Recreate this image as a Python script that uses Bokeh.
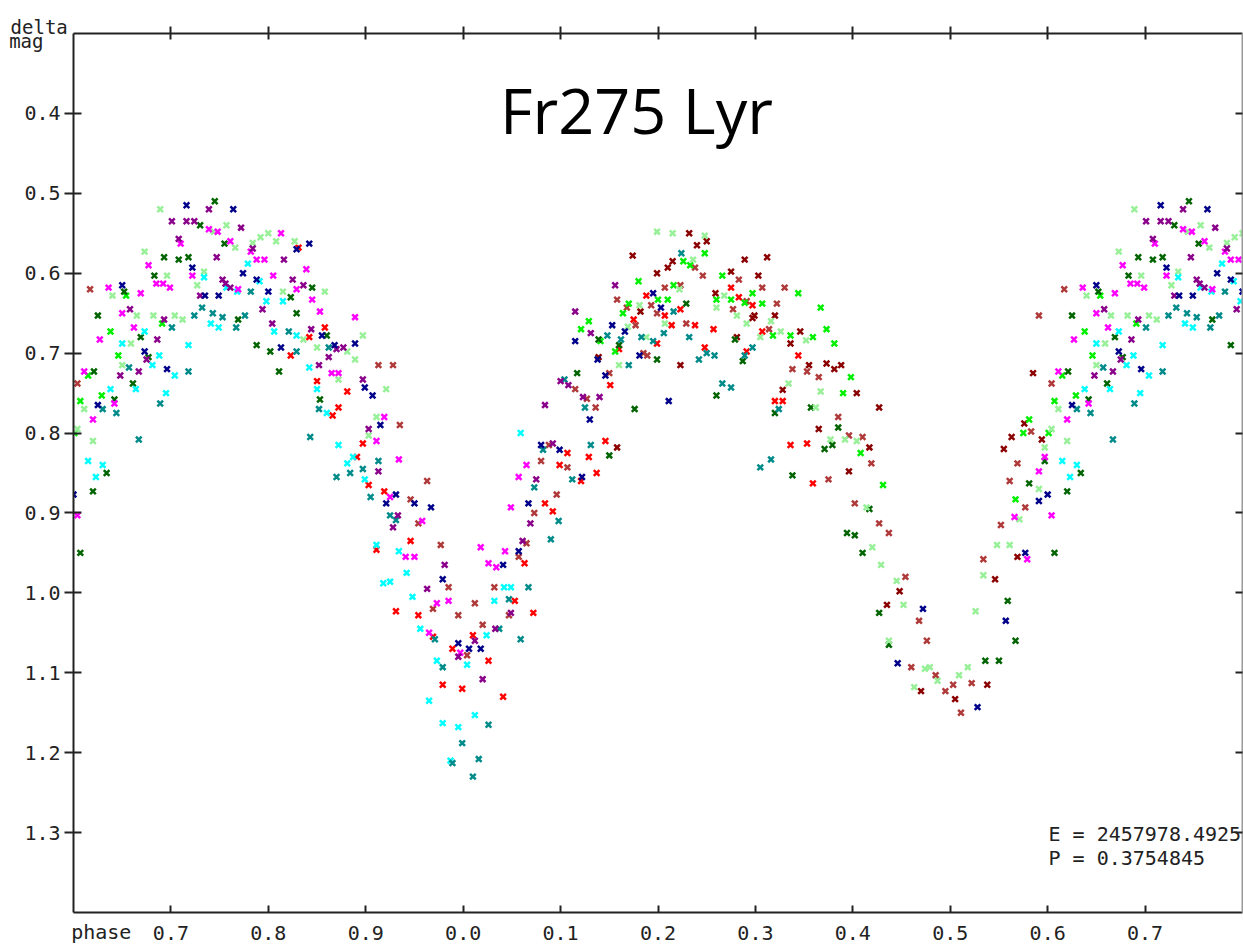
from bokeh.plotting import figure
from bokeh.models import (Range1d, LinearAxis, FixedTicker, Label, CustomLabelingPolicy,
                          PrintfTickFormatter, CustomJSTickFormatter)
from bokeh.embed import file_html
from bokeh.resources import INLINE

# ---- data: (phase, delta mag) per observing series ----
red = [(0.831,0.568),(0.842,0.680),(0.858,0.668),(0.823,0.703),(0.850,0.735),(0.881,0.748),
       (0.872,0.768),(0.866,0.778),(0.897,0.813),(0.891,0.830),(0.903,0.865),(0.919,0.873),
       (0.911,0.946),(0.931,1.023),(0.107,0.825),(0.129,0.830),(0.146,0.810),(0.099,0.840),
       (0.121,0.860),(0.137,0.850),(0.151,0.740),(0.160,0.695),(0.175,0.658),(0.188,0.628),
       (0.199,0.688),(0.207,0.653),(0.214,0.665),(0.223,0.645),(0.238,0.665),(0.248,0.693),
       (0.946,0.935),(0.954,1.028),(0.063,0.963),(0.084,0.888),(0.092,0.898),(0.053,1.010),
       (0.072,1.025),(0.010,1.053),(0.969,1.055),(0.989,1.070),(0.026,1.085),(0.979,1.115),
       (0.999,1.120),(0.041,1.130),(0.275,0.618),(0.283,0.630),(0.297,0.640),(0.257,0.670),
       (0.307,0.673),(0.291,0.698),(0.344,0.703),(0.320,0.760),(0.328,0.760),(0.336,0.815),
       (0.353,0.813),(0.359,0.863)]
brown = [(0.617,0.620),(0.913,0.715),(0.928,0.715),(0.604,0.738),(0.935,0.790),(0.963,0.860),
         (0.088,0.815),(0.080,0.835),(0.107,0.843),(0.096,0.877),(0.136,0.768),(0.127,0.757),
         (0.115,0.745),(0.150,0.725),(0.158,0.633),(0.168,0.643),(0.177,0.665),(0.193,0.640),
         (0.199,0.650),(0.185,0.700),(0.189,0.703),(0.238,0.593),(0.246,0.603),(0.207,0.618),
         (0.223,0.615),(0.229,0.663),(0.946,0.883),(0.954,0.913),(0.977,0.940),(0.985,0.993),
         (0.969,1.020),(0.995,1.028),(0.012,1.013),(0.057,0.955),(0.065,0.938),(0.073,0.900),
         (0.032,0.993),(0.047,1.028),(0.020,1.040),(0.004,1.078),(0.283,0.608),(0.307,0.618),
         (0.330,0.618),(0.291,0.635),(0.322,0.638),(0.277,0.645),(0.314,0.670),(0.338,0.720),
         (0.353,0.723),(0.365,0.730),(0.385,0.780),(0.396,0.803),(0.410,0.805),(0.419,0.838),
         (0.375,0.858),(0.591,0.653),(0.583,0.798),(0.569,0.838),(0.561,0.860),(0.402,0.888),
         (0.427,0.913),(0.437,0.925),(0.454,0.980),(0.468,1.035),(0.476,1.060),(0.460,1.093),
         (0.485,1.103),(0.495,1.123),(0.503,1.115),(0.511,1.150),(0.522,1.113),(0.534,0.958),
         (0.552,0.915),(0.577,0.893)]
darkred = [(0.158,0.818),(0.139,0.705),(0.174,0.578),(0.182,0.648),(0.223,0.715),(0.199,0.600),
           (0.210,0.593),(0.215,0.585),(0.232,0.550),(0.240,0.565),(0.250,0.560),(0.289,0.583),
           (0.312,0.580),(0.275,0.598),(0.303,0.603),(0.259,0.625),(0.299,0.653),(0.297,0.656),
           (0.320,0.653),(0.281,0.680),(0.336,0.688),(0.346,0.673),(0.355,0.715),(0.373,0.713),
           (0.381,0.720),(0.388,0.715),(0.328,0.746),(0.404,0.750),(0.427,0.768),(0.365,0.795),
           (0.417,0.818),(0.396,0.848),(0.585,0.725),(0.576,0.788),(0.563,0.805),(0.594,0.808),
           (0.555,0.820),(0.448,0.998),(0.435,1.015),(0.470,1.123),(0.505,1.133),(0.538,1.115),
           (0.546,0.983),(0.569,0.955)]
lime = [(0.654,0.628),(0.691,0.663),(0.638,0.673),(0.646,0.703),(0.615,0.728),(0.607,0.760),
        (0.629,0.753),(0.601,0.800),(0.129,0.660),(0.121,0.670),(0.141,0.685),(0.170,0.638),
        (0.164,0.650),(0.156,0.698),(0.180,0.610),(0.226,0.585),(0.233,0.590),(0.248,0.575),
        (0.216,0.615),(0.200,0.633),(0.210,0.633),(0.266,0.603),(0.297,0.625),(0.344,0.625),
        (0.260,0.633),(0.275,0.633),(0.289,0.637),(0.307,0.638),(0.367,0.643),(0.318,0.678),
        (0.336,0.678),(0.373,0.670),(0.359,0.680),(0.381,0.688),(0.398,0.730),(0.390,0.750),
        (0.408,0.825),(0.431,0.865),(0.581,0.783),(0.575,0.800),(0.567,0.883)]
darkgreen = [(0.745,0.510),(0.730,0.540),(0.755,0.563),(0.693,0.580),(0.708,0.583),(0.718,0.580),
             (0.683,0.603),(0.652,0.623),(0.823,0.630),(0.845,0.618),(0.625,0.653),(0.769,0.658),
             (0.829,0.650),(0.669,0.680),(0.860,0.678),(0.788,0.690),(0.802,0.698),(0.677,0.705),
             (0.811,0.723),(0.621,0.723),(0.661,0.738),(0.642,0.758),(0.853,0.758),(0.634,0.850),
             (0.620,0.873),(0.607,0.950),(0.150,0.828),(0.117,0.725),(0.176,0.770),(0.139,0.683),
             (0.160,0.690),(0.199,0.708),(0.229,0.638),(0.279,0.683),(0.287,0.710),(0.260,0.753),
             (0.320,0.775),(0.357,0.768),(0.385,0.793),(0.379,0.815),(0.371,0.820),(0.338,0.853),
             (0.597,0.835),(0.581,0.863),(0.417,0.895),(0.394,0.925),(0.402,0.928),(0.410,0.950),
             (0.427,1.025),(0.437,1.065),(0.536,1.085),(0.550,1.085),(0.567,1.060),(0.559,1.010)]
lightgreen = [(0.689,0.520),(0.744,0.548),(0.757,0.540),(0.800,0.550),(0.792,0.555),(0.784,0.562),
              (0.766,0.568),(0.808,0.560),(0.827,0.560),(0.673,0.573),(0.734,0.598),(0.696,0.603),
              (0.727,0.615),(0.858,0.623),(0.815,0.623),(0.640,0.628),(0.665,0.653),(0.682,0.653),
              (0.704,0.653),(0.712,0.658),(0.659,0.688),(0.836,0.683),(0.897,0.678),(0.850,0.693),
              (0.881,0.698),(0.889,0.708),(0.650,0.715),(0.872,0.733),(0.921,0.745),(0.611,0.770),
              (0.911,0.780),(0.903,0.803),(0.620,0.810),(0.604,0.795),(0.169,0.667),(0.160,0.715),
              (0.181,0.640),(0.207,0.663),(0.188,0.680),(0.236,0.583),(0.199,0.548),(0.215,0.550),
              (0.248,0.553),(0.222,0.620),(0.268,0.628),(0.260,0.643),(0.281,0.653),(0.291,0.663),
              (0.316,0.660),(0.326,0.673),(0.305,0.680),(0.352,0.684),(0.334,0.738),(0.367,0.748),
              (0.362,0.768),(0.377,0.808),(0.392,0.808),(0.404,0.810),(0.597,0.818),(0.591,0.870),
              (0.414,0.893),(0.420,0.943),(0.429,0.965),(0.445,0.985),(0.452,1.015),(0.437,1.060),
              (0.474,1.095),(0.479,1.093),(0.487,1.110),(0.463,1.118),(0.509,1.103),(0.518,1.093),
              (0.526,1.023),(0.534,0.978),(0.548,0.940),(0.561,0.940),(0.571,0.908)]
cyan = [(0.779,0.588),(0.734,0.605),(0.791,0.610),(0.757,0.618),(0.768,0.623),(0.798,0.635),
        (0.815,0.635),(0.741,0.663),(0.749,0.668),(0.673,0.673),(0.650,0.688),(0.718,0.690),
        (0.806,0.673),(0.829,0.678),(0.688,0.703),(0.681,0.715),(0.704,0.728),(0.842,0.718),
        (0.638,0.745),(0.664,0.745),(0.695,0.750),(0.850,0.745),(0.860,0.775),(0.872,0.815),
        (0.887,0.830),(0.881,0.838),(0.899,0.858),(0.615,0.835),(0.630,0.840),(0.623,0.855),
        (0.911,0.940),(0.934,0.948),(0.918,0.988),(0.925,0.986),(0.059,0.800),(0.942,0.975),
        (0.948,1.005),(0.042,0.993),(0.049,0.993),(0.032,1.010),(0.024,1.053),(0.956,1.045),
        (0.973,1.085),(0.004,1.090),(0.965,1.135),(0.012,1.153),(0.979,1.163),(0.995,1.168),
        (0.987,1.210)]
teal = [(0.782,0.623),(0.701,0.668),(0.724,0.653),(0.732,0.643),(0.743,0.650),(0.753,0.655),
        (0.776,0.653),(0.767,0.668),(0.821,0.673),(0.829,0.698),(0.862,0.693),(0.657,0.718),
        (0.718,0.723),(0.630,0.770),(0.644,0.775),(0.689,0.763),(0.852,0.770),(0.843,0.805),
        (0.667,0.808),(0.913,0.835),(0.870,0.855),(0.884,0.850),(0.897,0.845),(0.905,0.880),
        (0.925,0.903),(0.931,0.909),(0.082,0.821),(0.131,0.815),(0.073,0.868),(0.112,0.858),
        (0.125,0.768),(0.104,0.733),(0.148,0.678),(0.162,0.683),(0.170,0.715),(0.206,0.675),
        (0.183,0.680),(0.195,0.685),(0.224,0.575),(0.216,0.648),(0.232,0.680),(0.250,0.700),
        (0.242,0.708),(0.098,0.910),(0.090,0.933),(0.067,0.993),(0.047,1.008),(0.037,1.045),
        (0.059,1.058),(0.971,1.058),(0.979,1.093),(0.026,1.165),(0.999,1.188),(0.989,1.213),
        (0.016,1.208),(0.010,1.230),(0.297,0.693),(0.258,0.703),(0.289,0.703),(0.266,0.738),
        (0.275,0.743),(0.324,0.770),(0.316,0.833),(0.305,0.843)]
magenta = [(0.739,0.545),(0.748,0.548),(0.813,0.550),(0.710,0.563),(0.761,0.560),(0.782,0.573),
           (0.677,0.590),(0.788,0.583),(0.796,0.583),(0.722,0.603),(0.805,0.603),(0.839,0.595),
           (0.685,0.613),(0.692,0.613),(0.699,0.618),(0.769,0.620),(0.829,0.620),(0.636,0.618),
           (0.669,0.625),(0.845,0.633),(0.650,0.650),(0.853,0.648),(0.889,0.655),(0.627,0.683),
           (0.662,0.668),(0.865,0.725),(0.872,0.725),(0.611,0.723),(0.642,0.763),(0.620,0.783),
           (0.919,0.780),(0.911,0.810),(0.934,0.833),(0.925,0.880),(0.604,0.903),(0.065,0.840),
           (0.057,0.855),(0.958,0.910),(0.941,0.955),(0.950,0.955),(0.973,1.013),(0.985,1.010),
           (0.018,0.943),(0.043,0.948),(0.026,0.963),(0.034,0.968),(0.049,0.893),(0.965,1.050),
           (0.997,1.075),(0.597,0.830),(0.591,0.848),(0.579,0.958),(0.566,0.905)]
purple = [(0.739,0.520),(0.701,0.535),(0.716,0.535),(0.724,0.535),(0.772,0.543),(0.708,0.557),
          (0.784,0.569),(0.747,0.580),(0.816,0.583),(0.753,0.608),(0.825,0.608),(0.756,0.613),
          (0.761,0.618),(0.836,0.615),(0.730,0.628),(0.658,0.645),(0.693,0.658),(0.794,0.645),
          (0.686,0.683),(0.804,0.663),(0.844,0.670),(0.870,0.695),(0.877,0.693),(0.862,0.705),
          (0.675,0.708),(0.667,0.723),(0.648,0.728),(0.852,0.715),(0.897,0.733),(0.903,0.795),
          (0.913,0.848),(0.933,0.903),(0.928,0.918),(0.092,0.813),(0.075,0.858),(0.084,0.765),
          (0.123,0.755),(0.140,0.755),(0.100,0.735),(0.108,0.740),(0.115,0.648),(0.131,0.675),
          (0.156,0.615),(0.981,0.965),(0.963,0.995),(0.061,0.935),(0.069,0.913),(0.049,1.025),
          (0.033,1.045),(0.012,1.060),(0.995,1.080),(0.020,1.108)]
navy = [(0.716,0.515),(0.764,0.520),(0.829,0.570),(0.842,0.563),(0.722,0.593),(0.774,0.600),
        (0.788,0.608),(0.800,0.623),(0.735,0.628),(0.749,0.628),(0.650,0.615),(0.855,0.678),
        (0.868,0.690),(0.889,0.688),(0.813,0.693),(0.673,0.698),(0.696,0.720),(0.899,0.743),
        (0.907,0.753),(0.625,0.765),(0.915,0.790),(0.931,0.877),(0.921,0.888),(0.080,0.815),
        (0.099,0.821),(0.122,0.855),(0.130,0.783),(0.146,0.728),(0.115,0.685),(0.138,0.708),
        (0.153,0.665),(0.166,0.673),(0.195,0.625),(0.203,0.643),(0.181,0.703),(0.211,0.760),
        (0.950,0.888),(0.967,0.893),(0.979,0.983),(0.041,0.965),(0.057,0.948),(0.067,0.888),
        (0.995,1.063),(0.006,1.070),(0.018,1.070),(0.600,0.877),(0.472,1.020),(0.446,1.088),
        (0.528,1.143),(0.557,1.035),(0.577,0.950),(0.591,0.885)]

series = [(red, "#FF0000"), (brown, "#B03A3A"), (darkred, "#8B0000"), (lime, "#00F000"),
          (darkgreen, "#006400"), (lightgreen, "#98F098"), (cyan, "#00FFFF"), (teal, "#008B8B"),
          (magenta, "#FF00FF"), (purple, "#8B008B"), (navy, "#00008B")]

x_ticks = [0.7, 0.8, 0.9, 1.0, 1.1, 1.2, 1.3, 1.4, 1.5, 1.6, 1.7]
y_ticks = [0.4, 0.5, 0.6, 0.7, 0.8, 0.9, 1.0, 1.1, 1.2, 1.3]
x_name = "phase"
y_name_1 = "delta"
y_name_2 = "mag"
epoch_text = "E = 2457978.4925"
period_text = "P = 0.3754845"
title_text = "Fr275 Lyr"

X0, X1 = 0.6, 1.8
Y_TOP, Y_BOT = 0.3, 1.4


def unwrap(pairs):
    xs, ys = [], []
    for ph, m in pairs:
        if ph < X0:
            xs.append(ph + 1.0); ys.append(m)
        else:
            xs.append(ph); ys.append(m)
            if ph + 1.0 <= X1:
                xs.append(ph + 1.0); ys.append(m)
    return xs, ys


p = figure(width=1243, height=949, output_backend="svg", toolbar_location=None,
           x_range=Range1d(X0, X1), y_range=Range1d(Y_BOT, Y_TOP),
           x_axis_location=None, y_axis_location=None,
           min_border_left=73, min_border_right=1, min_border_top=33, min_border_bottom=37)
p.outline_line_color = None
p.background_fill_color = "white"
p.border_fill_color = "white"
for g in p.grid:
    g.visible = False

MONO = "DejaVu Sans Mono"
AXC = "#222222"
NO_LABELS = CustomLabelingPolicy(code="return [];")
EMPTY = CustomJSTickFormatter(code="return '';")


def style(ax, size="20px"):
    ax.axis_line_color = AXC
    ax.axis_line_width = 2
    ax.major_tick_line_color = AXC
    ax.major_tick_line_width = 2
    ax.minor_tick_line_color = None
    ax.major_label_text_font = MONO
    ax.major_label_text_font_size = size
    ax.major_label_text_color = AXC


def text_only(ax):
    ax.axis_line_color = None
    ax.major_tick_line_color = None
    ax.minor_tick_line_color = None
    ax.major_tick_in = 0
    ax.major_tick_out = 0


# bottom: ticks inward + phase labels
bottom = LinearAxis(ticker=FixedTicker(ticks=x_ticks),
                    formatter=CustomJSTickFormatter(code="return (tick % 1).toFixed(1);"))
style(bottom)
bottom.major_tick_in = 7
bottom.major_tick_out = 0
bottom.major_label_standoff = 13
p.add_layout(bottom, "below")

# bottom-left axis name "phase" on the label row
bottom_name = LinearAxis(ticker=FixedTicker(ticks=[0.6285]),
                         formatter=CustomJSTickFormatter(args=dict(t=x_name), code="return t;"))
style(bottom_name)
text_only(bottom_name)
bottom_name.major_label_standoff = -23
p.add_layout(bottom_name, "below")

# top: ticks crossing the line, no labels
top = LinearAxis(ticker=FixedTicker(ticks=x_ticks), major_label_policy=NO_LABELS, formatter=EMPTY)
style(top, "1px")
top.major_tick_in = 6
top.major_tick_out = 7
top.major_label_standoff = 0
p.add_layout(top, "above")

# "delta" above the top-left corner
top_name = LinearAxis(ticker=FixedTicker(ticks=[X0]),
                      formatter=CustomJSTickFormatter(args=dict(t=y_name_1 + "\u00a0" * 6),
                                                      code="return t;"))
style(top_name, "19px")
text_only(top_name)
top_name.major_label_standoff = -11
p.add_layout(top_name, "above")

# left: ticks crossing the line + magnitude labels
left = LinearAxis(ticker=FixedTicker(ticks=y_ticks), formatter=PrintfTickFormatter(format="%.1f"))
style(left)
left.major_tick_in = 8
left.major_tick_out = 9
left.major_label_standoff = 4
p.add_layout(left, "left")

# "mag" just under "delta"
left_name = LinearAxis(ticker=FixedTicker(ticks=[0.309]),
                       formatter=CustomJSTickFormatter(args=dict(t=y_name_2), code="return t;"))
style(left_name, "19px")
text_only(left_name)
left_name.major_label_standoff = -22
p.add_layout(left_name, "left")

# right: grey line, inward ticks, no labels
right = LinearAxis(ticker=FixedTicker(ticks=y_ticks), major_label_policy=NO_LABELS,
                   formatter=EMPTY)
style(right, "1px")
right.axis_line_color = "#9a9a9a"
right.major_tick_in = 7
right.major_tick_out = 0
right.major_label_standoff = 0
p.add_layout(right, "right")

for pairs, color in series:
    xs, ys = unwrap(pairs)
    p.scatter(xs, ys, marker="x", size=8, line_color=color, line_width=2.5)

p.add_layout(Label(x=563, y=803, x_units="screen", y_units="screen", text=title_text,
                   text_font="Open Sans", text_font_size="63px", text_align="center",
                   text_baseline="middle", text_color="black"))
p.add_layout(Label(x=975, y=79, x_units="screen", y_units="screen", text=epoch_text,
                   text_font=MONO, text_font_size="20px", text_baseline="middle",
                   text_color=AXC))
p.add_layout(Label(x=975, y=55, x_units="screen", y_units="screen", text=period_text,
                   text_font=MONO, text_font_size="20px", text_baseline="middle",
                   text_color=AXC))

open("out.html", "w").write(file_html(p, INLINE))
